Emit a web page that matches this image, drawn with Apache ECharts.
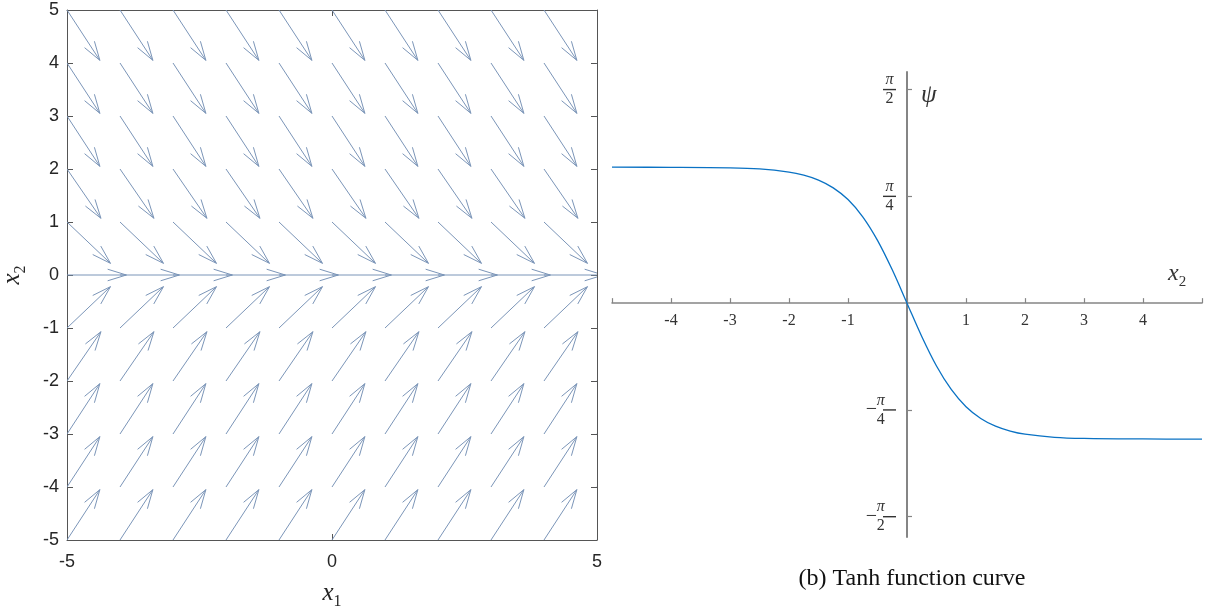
<!DOCTYPE html>
<html>
<head>
<meta charset="utf-8">
<script src="https://cdn.jsdelivr.net/npm/echarts@6/dist/echarts.min.js"></script>
<style>
html, body { margin: 0; padding: 0; background: #fff; }
#chart { width: 1206px; height: 608px; }
</style>
</head>
<body>
<div id="chart"></div>
<script>
(function () {

    // quiver grid (arrow tails)
    var QX = [-5, -4, -3, -2, -1, 0, 1, 2, 3, 4, 5];
    var QY = [5, 4, 3, 2, 1, 0, -1, -2, -3, -4, -5];
    // arrow components for each row of QY
    var QU = [0.62, 0.62, 0.62, 0.64, 0.82, 1.12, 0.82, 0.64, 0.62, 0.62, 0.62];
    var QV = [-0.95, -0.95, -0.95, -0.93, -0.78, 0, 0.78, 0.93, 0.95, 0.95, 0.95];

    // tanh curve points
    var PSI_X = [-5, -4, -3, -2.5, -2, -1.75, -1.5, -1.25, -1, -0.75, -0.5, -0.25, 0,
                 0.25, 0.5, 0.75, 1, 1.25, 1.5, 1.75, 2, 2.5, 3, 4, 5];
    var PSI_Y = [1.0, 0.999, 0.995, 0.987, 0.964, 0.941, 0.905, 0.848, 0.762, 0.635, 0.462, 0.245, 0,
                 -0.245, -0.462, -0.635, -0.762, -0.848, -0.905, -0.941, -0.964, -0.987, -0.995, -0.999, -1.0];

    var X_TICKS = [-5, -4, -3, -2, -1, 0, 1, 2, 3, 4, 5];
    var X_LABELS = [-4, -3, -2, -1, 1, 2, 3, 4];
    var PSI_TICKS = [-Math.PI / 2, -Math.PI / 4, Math.PI / 4, Math.PI / 2];

    var PSI_MIN = -1.72, PSI_MAX = 1.70;

    var ARROW = '#7b95b8';
    var AXIS = '#555555';
    var AXIS2 = '#858585';

    // grid boxes
    var G1 = { left: 67, top: 10, width: 530, height: 530, outerBoundsMode: 'none', containLabel: false };
    var G2 = { left: 612, top: 72, width: 590, height: 465, outerBoundsMode: 'none', containLabel: false };

    var chart = echarts.init(document.getElementById('chart'));

    var quiver = [];
    for (var r = 0; r < QY.length; r++) {
        for (var c = 0; c < QX.length; c++) {
            quiver.push([QX[c], QY[r], QU[r], QV[r]]);
        }
    }

    var curve = [];
    for (var i = 0; i < PSI_X.length; i++) {
        curve.push([PSI_X[i], PSI_Y[i]]);
    }

    // axes of the right panel cross at the origin
    var yOff = -(G2.width * 5 / 10);
    var xOff = -(G2.height * (0 - PSI_MIN) / (PSI_MAX - PSI_MIN));

    //
    function renderArrow(params, api) {
        var x = api.value(0), y = api.value(1), u = api.value(2), v = api.value(3);
        var p0 = api.coord([x, y]);
        var p1 = api.coord([x + u, y + v]);
        var dx = p1[0] - p0[0], dy = p1[1] - p0[1];
        var len = Math.sqrt(dx * dx + dy * dy);
        var ang = Math.atan2(dy, dx);
        var hl = len * 0.33, ha = 0.3;
        var h1 = [p1[0] - hl * Math.cos(ang - ha), p1[1] - hl * Math.sin(ang - ha)];
        var h2 = [p1[0] - hl * Math.cos(ang + ha), p1[1] - hl * Math.sin(ang + ha)];
        return {
            type: 'group',
            children: [
                { type: 'line', shape: { x1: p0[0], y1: p0[1], x2: p1[0], y2: p1[1] },
                  style: { stroke: ARROW, lineWidth: 1 } },
                { type: 'polyline', shape: { points: [h1, p1, h2] },
                  style: { stroke: ARROW, fill: null, lineWidth: 1 } }
            ]
        };
    }

    //
    function piLabel(val) {
        var neg = val < 0;
        var den = Math.abs(Math.abs(val) - Math.PI / 2) < 0.01 ? '2' : '4';
        return '{n|π}\n' + (neg ? '{m|−}' : '') + '{bar|}\n{d|' + den + '}';
    }

    var sans = { fontFamily: 'Liberation Sans, Arial, sans-serif', fontSize: 18, color: '#262626' };
    var boxLine = { show: true, onZero: false, lineStyle: { color: AXIS, width: 1 } };
    var boxTick = { show: true, inside: true, length: 6, lineStyle: { color: AXIS } };
    var nameRich = {
        i: { fontFamily: 'Liberation Serif', fontStyle: 'italic', fontSize: 25, color: '#262626', verticalAlign: 'middle', lineHeight: 30 },
        s: { fontFamily: 'Liberation Serif', fontSize: 16, color: '#262626', verticalAlign: 'bottom', lineHeight: 34 }
    };

    var option = {
        animation: false,
        backgroundColor: '#fff',
        title: {
            text: '(b) Tanh function curve',
            left: 907,
            top: 562,
            textAlign: 'center',
            textStyle: { fontFamily: 'Liberation Serif, Times New Roman, serif', fontSize: 24, fontWeight: 'normal', color: '#111' }
        },
        grid: [G1, G2],
        xAxis: [
            {
                gridIndex: 0, type: 'value', min: -5, max: 5, interval: 5, position: 'bottom',
                axisLine: boxLine, axisTick: boxTick, splitLine: { show: false },
                axisLabel: Object.assign({ margin: 13 }, sans),
                name: '{i|x}{s|1}', nameLocation: 'middle', nameGap: 36,
                nameTextStyle: { rich: nameRich }
            },
            {
                gridIndex: 0, type: 'value', min: -5, max: 5, interval: 5, position: 'top',
                axisLine: boxLine, axisTick: boxTick, splitLine: { show: false },
                axisLabel: { show: false }
            },
            {
                gridIndex: 1, type: 'value', min: -5, max: 5, position: 'bottom', offset: xOff,
                axisLine: { show: true, onZero: false, lineStyle: { color: AXIS2, width: 1.5 } },
                axisTick: { show: true, inside: true, length: 5, customValues: X_TICKS, lineStyle: { color: AXIS2, width: 1.2 } },
                axisLabel: { customValues: X_LABELS, margin: 10, fontFamily: 'Liberation Serif, serif', fontSize: 16, color: '#333' },
                splitLine: { show: false }
            }
        ],
        yAxis: [
            {
                gridIndex: 0, type: 'value', min: -5, max: 5, interval: 1, position: 'left',
                axisLine: boxLine, axisTick: boxTick, splitLine: { show: false },
                axisLabel: Object.assign({ margin: 8 }, sans),
                name: '{i|x}{s|2}', nameLocation: 'middle', nameGap: 38, nameRotate: 90,
                nameTextStyle: { rich: nameRich }
            },
            {
                gridIndex: 0, type: 'value', min: -5, max: 5, interval: 1, position: 'right',
                axisLine: boxLine, axisTick: boxTick, splitLine: { show: false },
                axisLabel: { show: false }
            },
            {
                gridIndex: 1, type: 'value', min: PSI_MIN, max: PSI_MAX, position: 'left', offset: yOff,
                axisLine: { show: true, onZero: false, lineStyle: { color: AXIS2, width: 2 } },
                axisTick: { show: true, inside: true, length: 5, customValues: PSI_TICKS, lineStyle: { color: AXIS2, width: 1.2 } },
                axisLabel: {
                    customValues: PSI_TICKS, margin: 11, align: 'right',
                    formatter: piLabel,
                    rich: {
                        n: { fontFamily: 'Liberation Serif', fontStyle: 'italic', fontSize: 16, color: '#333', width: 13, align: 'center', lineHeight: 15 },
                        d: { fontFamily: 'Liberation Serif', fontSize: 16, color: '#333', width: 13, align: 'center', lineHeight: 15 },
                        bar: { width: 13, height: 1.4, backgroundColor: '#333', lineHeight: 4 },
                        m: { fontFamily: 'Liberation Serif', fontSize: 20, color: '#333', lineHeight: 4, padding: [0, 6, 0, 0] }
                    }
                },
                splitLine: { show: false }
            }
        ],
        graphic: [
            {
                type: 'text', left: 1168, top: 262,
                style: { rich: {
                    i: { fontFamily: 'Liberation Serif', fontStyle: 'italic', fontSize: 24, fill: '#333', verticalAlign: 'middle', lineHeight: 28 },
                    s: { fontFamily: 'Liberation Serif', fontSize: 15, fill: '#333', verticalAlign: 'bottom', lineHeight: 32 }
                }, text: '{i|x}{s|2}' }
            },
            {
                type: 'text', left: 921, top: 83,
                style: { text: 'ψ', fontFamily: 'Liberation Serif', fontStyle: 'italic', fontSize: 25, fill: '#333' }
            }
        ],
        series: [
            {
                type: 'custom',
                xAxisIndex: 0, yAxisIndex: 0,
                clip: true,
                renderItem: renderArrow,
                encode: { x: 0, y: 1 },
                data: quiver,
                silent: true
            },
            {
                type: 'line',
                xAxisIndex: 2, yAxisIndex: 2,
                data: curve,
                smooth: 0.35,
                showSymbol: false,
                lineStyle: { color: '#0a72c4', width: 1.3 },
                silent: true
            }
        ]
    };

    chart.setOption(option);

}());
</script>
</body>
</html>
